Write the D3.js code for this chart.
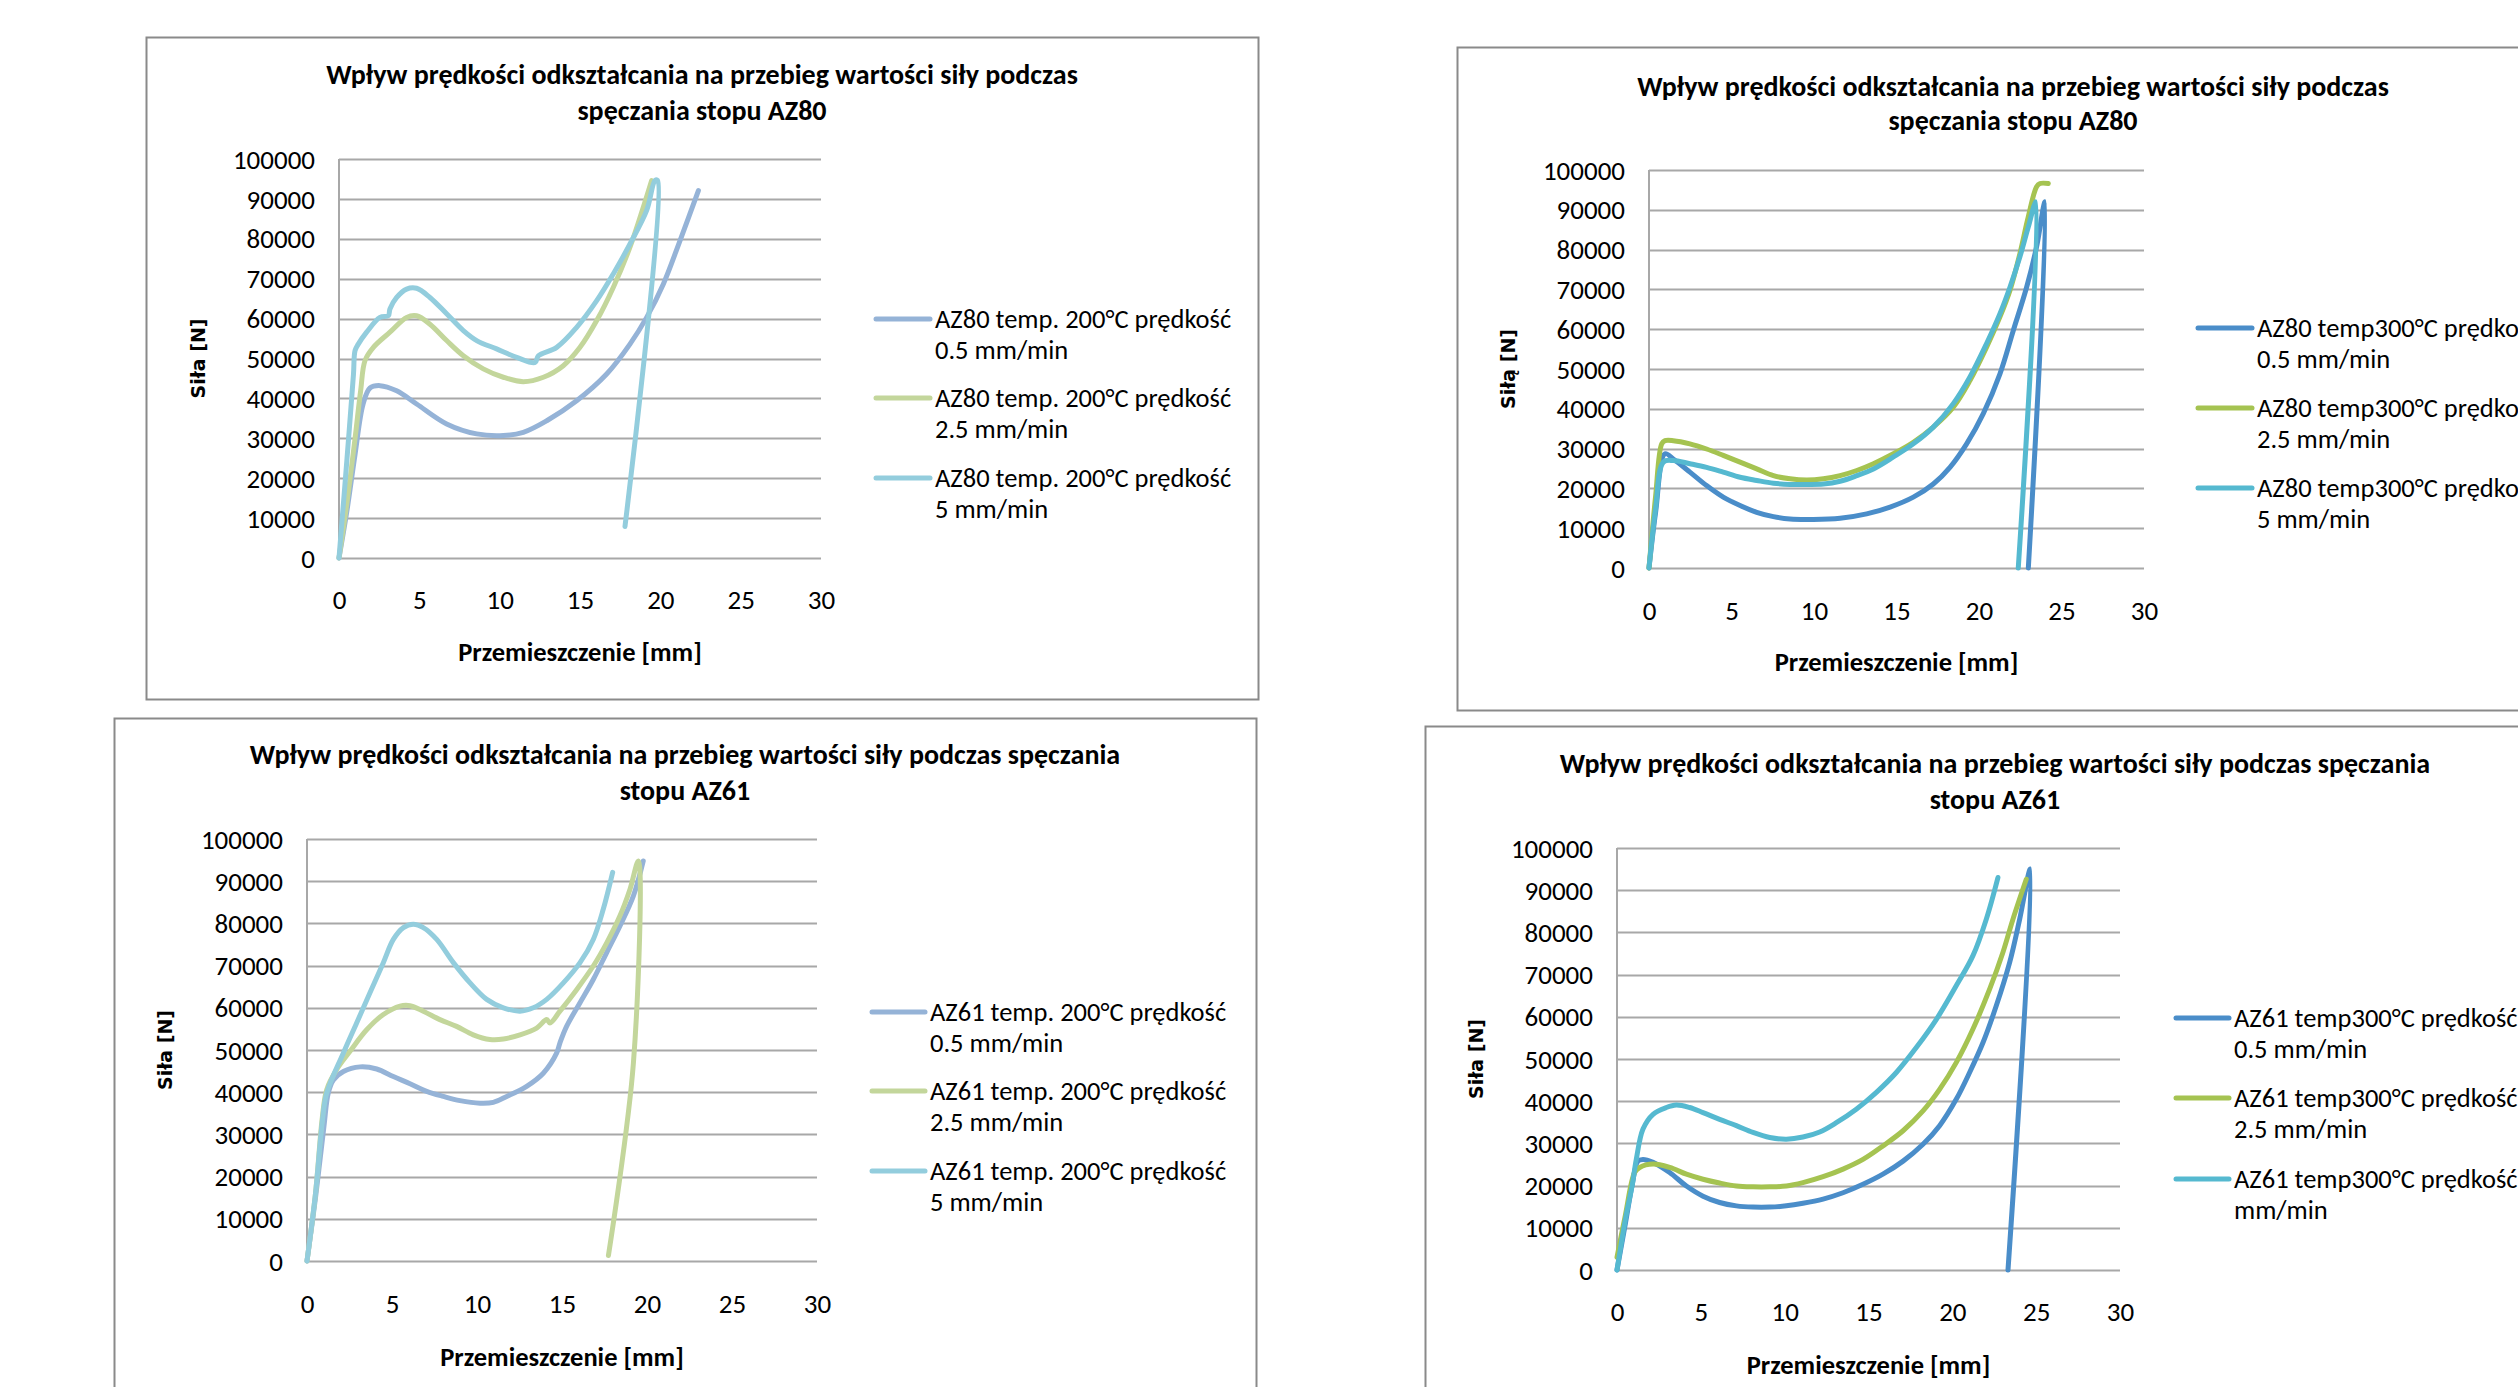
<!DOCTYPE html>
<html lang="pl">
<head>
<meta charset="utf-8">
<title>Wpływ prędkości odkształcania na przebieg wartości siły</title>
<script src="https://cdn.jsdelivr.net/npm/d3@7"></script>
<style>
  html, body { margin: 0; padding: 0; background: #ffffff; overflow: hidden; }
  svg { display: block; }
  .txt { font-family: Carlito, Lato, "Liberation Sans", sans-serif; fill: #000; }
</style>
</head>
<body>
<svg id="chart" width="2518" height="1387"></svg>
<script>
// Axis ticks shared by all four charts
const xTicks = [0, 5, 10, 15, 20, 25, 30];
const yTicks = [0, 10000, 20000, 30000, 40000, 50000, 60000, 70000, 80000, 90000, 100000];

// Chart titles and axis labels
const titleAZ80 = ["Wpływ prędkości odkształcania na przebieg wartości siły podczas", "spęczania stopu AZ80"];
const titleAZ61 = ["Wpływ prędkości odkształcania na przebieg wartości siły podczas spęczania", "stopu AZ61"];
const xAxisTitle = "Przemieszczenie [mm]";
const yAxisTitles = ["Siła [N]", "Siłą [N]", "Siła [N]", "Siła [N]"];

// Legend entries (two lines each)
const legendAZ80_200 = [["AZ80 temp. 200°C prędkość", "0.5 mm/min"], ["AZ80 temp. 200°C prędkość", "2.5 mm/min"], ["AZ80 temp. 200°C prędkość", "5 mm/min"]];
const legendAZ80_300 = [["AZ80 temp300°C prędkość", "0.5 mm/min"], ["AZ80 temp300°C prędkość", "2.5 mm/min"], ["AZ80 temp300°C prędkość", "5 mm/min"]];
const legendAZ61_200 = [["AZ61 temp. 200°C prędkość", "0.5 mm/min"], ["AZ61 temp. 200°C prędkość", "2.5 mm/min"], ["AZ61 temp. 200°C prędkość", "5 mm/min"]];
const legendAZ61_300 = [["AZ61 temp300°C prędkość", "0.5 mm/min"], ["AZ61 temp300°C prędkość", "2.5 mm/min"], ["AZ61 temp300°C prędkość 5", "mm/min"]];

// Series: [displacement mm, force N]
const az80_200_v05 = [[0,0],[0.5,12000],[1.0,26000],[1.5,38600],[1.93,42600],[2.55,43200],[3.59,41900],[4.83,38600],[6.7,33600],[8.57,31100],[10.23,30700],[11.47,31500],[12.93,34400],[14.79,39400],[16.66,46100],[18.11,53600],[19.15,60300],[20.19,68700],[21.22,79500],[22.37,92100]];
const az80_200_v25 = [[0,0],[0.5,14000],[1.0,30000],[1.35,42000],[1.62,49500],[2.14,52800],[3.17,56600],[4.21,60300],[4.83,60700],[5.66,58600],[6.7,54500],[7.74,50700],[8.98,47400],[10.23,45300],[11.47,44200],[12.72,45300],[13.96,48200],[15.0,52800],[16.04,59500],[17.07,67800],[18.11,77900],[18.94,87900],[19.46,94600]];
const az80_200_v5 = [[0,0],[0.5,25000],[0.9,46000],[1.0,52000],[1.2,53600],[1.72,56600],[2.55,60300],[3.07,60700],[3.17,62400],[3.59,65300],[4.21,67400],[4.83,67600],[5.66,65300],[6.7,61200],[7.74,57000],[8.57,54500],[9.81,52400],[11.06,50300],[12.2,49000],[12.41,50700],[13.55,52800],[14.79,57800],[16.04,64500],[17.07,71200],[18.11,78700],[19.15,87100],[19.67,94600],[19.83,94600],[17.8,7900]];

const az80_300_v05 = [[0,0],[0.4,14000],[0.97,28700],[1.47,27400],[2.48,24100],[3.49,20700],[4.5,17800],[5.52,15700],[6.53,14000],[7.54,12900],[8.55,12300],[9.96,12200],[11.58,12500],[13.19,13600],[14.61,15300],[16.02,17800],[17.23,21100],[18.24,25300],[19.25,31200],[20.26,38800],[21.27,48800],[22.08,59700],[22.89,70600],[23.49,80700],[24.0,92000],[22.99,0]];
const az80_300_v25 = [[0,0],[0.4,18000],[0.77,31200],[0.97,32000],[1.47,32000],[2.48,31200],[3.49,29900],[4.5,28300],[5.52,26600],[6.53,24900],[7.54,23200],[8.55,22400],[9.56,22100],[10.57,22400],[11.58,23200],[12.59,24500],[13.6,26200],[14.81,28700],[16.02,31600],[17.23,35400],[18.44,40400],[19.45,47100],[20.46,55500],[21.27,63100],[21.88,69800],[22.48,79000],[22.99,88300],[23.49,95800],[23.7,96600],[24.2,96600]];
const az80_300_v5 = [[0,0],[0.4,15000],[0.87,26600],[1.47,27000],[2.48,26200],[3.49,25300],[4.5,24100],[5.52,22800],[6.53,22000],[7.54,21300],[8.55,21000],[9.56,21000],[10.57,21100],[11.58,21800],[12.59,23200],[13.6,24900],[14.81,27900],[16.02,31200],[17.23,35400],[18.44,41300],[19.45,48000],[20.46,56400],[21.27,63900],[21.88,70600],[22.48,78200],[22.99,85700],[23.45,92000],[22.38,0]];

const az61_200_v05 = [[0,0],[0.5,15000],[1.0,32000],[1.25,39800],[1.55,42900],[2.14,44900],[3.12,46000],[4.1,45500],[5.08,43700],[6.06,42000],[7.04,40200],[8.02,39000],[9.0,38000],[10.18,37400],[10.96,37600],[11.75,39000],[12.92,41400],[13.9,44500],[14.69,49300],[14.88,51700],[15.27,55600],[16.06,61200],[16.84,66700],[17.63,73100],[18.41,79400],[19.2,86500],[19.78,94800]];
const az61_200_v25 = [[0,0],[0.5,16000],[0.9,34000],[1.16,40600],[1.75,45400],[2.53,49700],[3.51,54800],[4.49,58400],[5.47,60400],[6.06,60500],[6.84,59200],[7.82,57200],[8.8,55600],[9.78,53600],[10.76,52500],[11.55,52600],[12.53,53600],[13.51,55200],[14.1,57200],[14.29,56400],[14.88,59200],[15.86,64300],[16.84,69900],[17.63,75400],[18.41,81800],[19.0,88100],[19.49,94800],[19.2,46900],[17.73,1300]];
const az61_200_v5 = [[0,0],[0.5,16000],[0.9,33000],[1.16,39800],[2.14,49300],[2.92,56400],[3.71,63600],[4.49,70700],[5.08,76200],[5.67,79000],[6.25,79800],[6.84,79000],[7.63,76200],[8.61,70700],[9.59,65900],[10.57,62000],[11.55,60000],[12.53,59200],[13.31,60000],[14.1,62000],[15.08,65900],[16.06,70700],[16.84,76200],[17.43,83400],[17.98,92100]];

const az61_300_v05 = [[0,0],[0.5,11000],[0.9,20000],[1.25,25800],[1.55,26200],[2.15,25500],[3.14,23100],[4.14,19900],[5.13,17500],[6.12,16000],[7.12,15200],[8.11,14900],[9.11,14900],[10.1,15200],[11.09,15800],[12.29,16800],[13.48,18300],[14.67,20300],[15.86,22700],[17.06,25800],[18.25,29800],[19.24,34200],[20.24,40500],[21.03,46800],[21.83,53900],[22.62,62600],[23.42,72900],[24.02,83200],[24.65,95000],[23.32,0]];
const az61_300_v25 = [[0,3000],[0.5,13000],[1.05,23100],[1.35,24300],[2.15,25100],[3.14,24300],[4.14,22700],[5.13,21500],[6.12,20600],[7.12,19900],[8.11,19700],[9.11,19700],[10.1,19900],[11.09,20700],[12.29,22100],[13.48,23900],[14.67,26200],[15.86,29400],[17.06,33000],[18.25,37700],[19.24,42800],[20.24,49200],[21.23,57100],[22.23,66600],[23.02,75300],[23.62,83200],[24.41,92600]];
const az61_300_v5 = [[0,0],[0.5,12000],[0.9,20000],[1.15,26200],[1.55,33400],[2.15,36900],[2.94,38500],[3.54,39100],[4.33,38500],[5.13,37300],[6.12,35700],[7.12,34200],[8.11,32600],[9.11,31400],[10.1,31000],[11.09,31500],[12.09,32700],[13.08,34900],[14.27,38100],[15.47,42100],[16.66,46800],[17.85,52700],[19.05,59400],[20.24,67400],[21.23,74500],[22.03,83200],[22.72,93000]];

// Palettes: pale tones for 200°C, saturated tones for 300°C
const palette200 = ["#95b3d7", "#c3d69b", "#93cddd"];
const palette300 = ["#4a8dc9", "#a5c351", "#55b9d0"];

// Panel geometry (page pixels)
const panels = [
  { box: [146, 37, 1112, 662], plot: [339, 821, 558, 159], titleX: 702, titleY: [84, 120], title: titleAZ80,
    yLabX: 198, xTitleY: 661, xTickY: 609, leg: [876, 930, 935], legRows: [319, 398, 478],
    series: [az80_200_v05, az80_200_v25, az80_200_v5], legend: legendAZ80_200, colors: palette200, yTitle: yAxisTitles[0] },
  { box: [1457, 47, 1100, 663], plot: [1649, 2144, 568, 170], titleX: 2013, titleY: [96, 130], title: titleAZ80,
    yLabX: 1508, xTitleY: 671, xTickY: 620, leg: [2198, 2252, 2257], legRows: [328, 408, 488],
    series: [az80_300_v05, az80_300_v25, az80_300_v5], legend: legendAZ80_300, colors: palette300, yTitle: yAxisTitles[1] },
  { box: [114, 718, 1142, 720], plot: [307, 817, 1261, 839], titleX: 685, titleY: [764, 800], title: titleAZ61,
    yLabX: 165, xTitleY: 1366, xTickY: 1313, leg: [872, 925, 930], legRows: [1012, 1091, 1171],
    series: [az61_200_v05, az61_200_v25, az61_200_v5], legend: legendAZ61_200, colors: palette200, yTitle: yAxisTitles[2] },
  { box: [1425, 726, 1120, 720], plot: [1617, 2120, 1270, 848], titleX: 1995, titleY: [773, 809], title: titleAZ61,
    yLabX: 1476, xTitleY: 1374, xTickY: 1321, leg: [2176, 2229, 2234], legRows: [1018, 1098, 1179],
    series: [az61_300_v05, az61_300_v25, az61_300_v5], legend: legendAZ61_300, colors: palette300, yTitle: yAxisTitles[3] }
];

const svg = d3.select("#chart");
const FONT = 'Carlito, Lato, "Liberation Sans", sans-serif';

panels.forEach(p => {
  const g = svg.append("g");
  const [bx, by, bw, bh] = p.box;
  g.append("rect").attr("x", bx + 0.5).attr("y", by + 0.5).attr("width", bw).attr("height", bh)
    .attr("fill", "#fff").attr("stroke", "#8a8a8a").attr("stroke-width", 2);

  const x = d3.scaleLinear().domain([0, 30]).range([p.plot[0], p.plot[1]]);
  const y = d3.scaleLinear().domain([0, 100000]).range([p.plot[2], p.plot[3]]);

  // Horizontal gridlines
  g.append("g").selectAll("line").data(yTicks).join("line")
    .attr("x1", x(0)).attr("x2", x(30))
    .attr("y1", d => Math.round(y(d)) + 0.5).attr("y2", d => Math.round(y(d)) + 0.5)
    .attr("stroke", "#a8a8a8").attr("stroke-width", 2);

  // Value axis line
  g.append("line").attr("x1", x(0)).attr("x2", x(0)).attr("y1", y(100000)).attr("y2", y(0))
    .attr("stroke", "#a8a8a8").attr("stroke-width", 2);

  // Axes via d3 (labels only)
  const yAxis = d3.axisLeft(y).tickValues(yTicks).tickSize(0).tickPadding(24).tickFormat(d3.format("d"));
  const ya = g.append("g").attr("transform", `translate(${x(0)},0)`).call(yAxis);
  ya.select(".domain").remove();
  ya.selectAll("text").attr("class", "txt").style("font-family", FONT).style("font-size", "27px").attr("fill", "#000").attr("dy", "0.34em");

  const xAxis = d3.axisBottom(x).tickValues(xTicks).tickSize(0).tickPadding(0);
  const xa = g.append("g").attr("transform", `translate(0,${p.xTickY})`).call(xAxis);
  xa.select(".domain").remove();
  xa.selectAll("text").attr("class", "txt").style("font-family", FONT).style("font-size", "27px").attr("fill", "#000").attr("dy", 0).attr("y", 0);

  // Title
  g.append("g").selectAll("text").data(p.title).join("text")
    .attr("class", "txt").attr("x", p.titleX).attr("y", (d, i) => p.titleY[i])
    .attr("text-anchor", "middle").style("font-size", "28px").style("font-weight", "bold").text(d => d);

  // Axis titles
  g.append("text").attr("class", "txt").attr("x", (p.plot[0] + p.plot[1]) / 2).attr("y", p.xTitleY)
    .attr("text-anchor", "middle").style("font-size", "26.5px").style("font-weight", "bold").text(xAxisTitle);
  g.append("text")
    .attr("transform", `translate(${p.yLabX + 7},${(p.plot[2] + p.plot[3]) / 2}) rotate(-90)`)
    .attr("text-anchor", "middle").style("font-family", '"DejaVu Sans", Verdana, sans-serif')
    .style("font-size", "19px").style("font-weight", "bold").attr("fill", "#000").text(p.yTitle);

  // Series curves
  const line = d3.line().x(d => x(d[0])).y(d => y(d[1])).curve(d3.curveCatmullRom.alpha(0.5));
  p.series.forEach((s, i) => {
    g.append("path").attr("d", line(s)).attr("fill", "none")
      .attr("stroke", p.colors[i]).attr("stroke-width", 5)
      .attr("stroke-linejoin", "round").attr("stroke-linecap", "round");
  });

  // Legend
  const lg = g.append("g");
  p.legend.forEach((lab, i) => {
    const ry = p.legRows[i];
    lg.append("line").attr("x1", p.leg[0]).attr("x2", p.leg[1]).attr("y1", ry).attr("y2", ry)
      .attr("stroke", p.colors[i]).attr("stroke-width", 5).attr("stroke-linecap", "round");
    lg.append("text").attr("class", "txt").attr("x", p.leg[2]).attr("y", ry + 9)
      .style("font-size", "26.5px").text(lab[0]);
    lg.append("text").attr("class", "txt").attr("x", p.leg[2]).attr("y", ry + 40)
      .style("font-size", "26.5px").text(lab[1]);
  });
});
</script>
</body>
</html>
